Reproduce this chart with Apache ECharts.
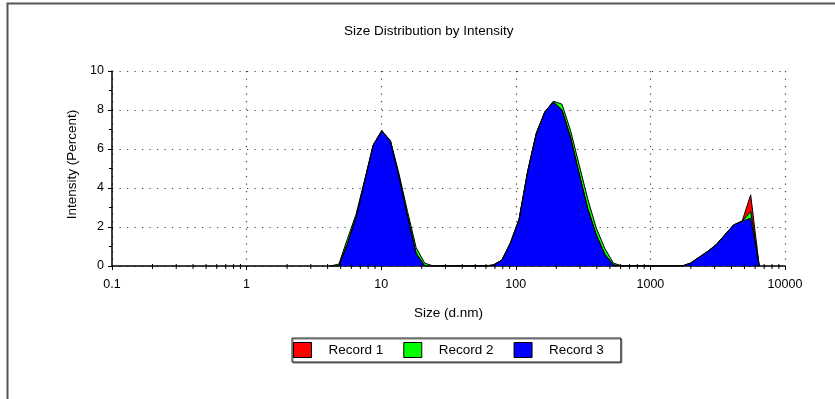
<!DOCTYPE html>
<html>
<head>
<meta charset="utf-8">
<script src="https://cdn.jsdelivr.net/npm/echarts@6/dist/echarts.min.js"></script>
<style>
html,body{margin:0;padding:0;background:#fff;}
#chart{width:835px;height:399px;}
</style>
</head>
<body>
<div id="chart"></div>
<script>
// Size bins (d.nm)
var sizes = [4.187, 4.849, 5.615, 6.503, 7.531, 8.721, 10.10, 11.70, 13.54, 15.69, 18.17, 21.04, 24.36,
  58.77, 68.06, 78.82, 91.28, 105.7, 122.4, 141.8, 164.2, 190.1, 220.2, 255.0, 295.3, 342.0, 396.1, 458.7, 531.2, 615.1,
  1718, 1990, 2305, 2669, 3091, 3580, 4145, 4801, 5560, 6439];
// Intensity (Percent)
var record1 = [0, 0, 1.15, 2.5, 4.35, 6.2, 6.95, 6.4, 4.6, 2.55, 0.65, 0, 0,
  0, 0.05, 0.3, 1.2, 2.4, 4.85, 6.8, 7.9, 8.4, 8.0, 6.6, 4.75, 2.95, 1.6, 0.6, 0.05, 0,
  0, 0.15, 0.45, 0.75, 1.1, 1.6, 2.1, 2.3, 3.65, 0];
var record2 = [0, 0.1, 1.4, 2.65, 4.4, 6.2, 6.9, 6.45, 4.75, 2.8, 0.95, 0.15, 0,
  0, 0.05, 0.3, 1.15, 2.35, 4.8, 6.75, 7.9, 8.45, 8.3, 6.95, 5.2, 3.45, 1.95, 0.9, 0.15, 0,
  0, 0.15, 0.45, 0.75, 1.1, 1.6, 2.1, 2.3, 2.8, 0];
var record3 = [0, 0, 1.15, 2.5, 4.35, 6.2, 6.95, 6.4, 4.6, 2.55, 0.65, 0, 0,
  0, 0.05, 0.3, 1.2, 2.4, 4.85, 6.8, 7.9, 8.4, 8.0, 6.6, 4.75, 2.95, 1.6, 0.6, 0.05, 0,
  0, 0.15, 0.45, 0.75, 1.1, 1.6, 2.1, 2.3, 2.45, 0];
var seriesNames = ['Record 1', 'Record 2', 'Record 3'];
var seriesColors = ['#ff0000', '#00ff00', '#0000ff'];
var xTickLabels = ['0.1', '1', '10', '100', '1000', '10000'];
var yTickLabels = ['0', '2', '4', '6', '8', '10'];

// minor tick positions on log axis (2..9 in each decade)
var xMinorTicks = [];
var decades = [0.1, 1, 10, 100, 1000];
decades.forEach(function (d) { for (var m = 2; m <= 9; m++) xMinorTicks.push(+(d * m).toPrecision(6)); });

function pairs(vals) { return sizes.map(function (s, i) { return [s, vals[i]]; }); }
var allValues = [record1, record2, record3];

var FONT = '"Liberation Sans", Arial, sans-serif';
var chart = echarts.init(document.getElementById('chart'), null, {renderer: 'canvas'});

var series = seriesNames.map(function (name, k) {
  return {
    name: name,
    type: 'line',
    data: pairs(allValues[k]),
    symbol: 'none',
    itemStyle: {color: seriesColors[k]},
    lineStyle: {color: '#000', width: 1},
    areaStyle: {color: seriesColors[k], opacity: 1},
    animation: false,
    silent: true
  };
});
series.push({
  type: 'custom',
  name: 'minorTicks',
  silent: true,
  animation: false,
  data: xMinorTicks.map(function (v) { return [v, 0]; }),
  renderItem: function (params, api) {
    var p = api.coord([api.value(0), 0]);
    return {type: 'line', shape: {x1: p[0], y1: p[1] - 2, x2: p[0], y2: p[1] + 3},
      style: {stroke: '#000', lineWidth: 1}};
  },
  z: 5
});

chart.setOption({
  animation: false,
  backgroundColor: '#fff',
  title: {
    text: 'Size Distribution by Intensity',
    left: 339, top: 19,
    textStyle: {fontFamily: FONT, fontSize: 13.5, fontWeight: 'normal', color: '#000'}
  },
  graphic: [{
    type: 'polyline',
    shape: {points: [[7.5, 400], [7.5, 3.5], [836, 3.5]]},
    style: {stroke: '#555', lineWidth: 2, fill: null}
  }],
  legend: {
    data: seriesNames,
    left: 292, top: 338,
    icon: 'rect',
    itemWidth: 18, itemHeight: 15, itemGap: 20,
    padding: [4, 17, 4, 1],
    borderColor: '#222', borderWidth: 1,
    shadowColor: '#777', shadowOffsetX: 1, shadowOffsetY: 1, shadowBlur: 0,
    backgroundColor: '#fff',
    itemStyle: {borderColor: '#000', borderWidth: 1},
    textStyle: {fontFamily: FONT, fontSize: 13.5, color: '#000', padding: [0, 0, 0, 12]},
    selectedMode: false
  },
  grid: {left: 112, right: 50, top: 71, bottom: 133, containLabel: false},
  xAxis: {
    type: 'log', logBase: 10, min: 0.1, max: 10000, splitNumber: 5,
    name: 'Size (d.nm)', nameLocation: 'middle', nameGap: 40,
    nameTextStyle: {fontFamily: FONT, fontSize: 13.5, color: '#000', verticalAlign: 'top'},
    axisLine: {show: true, lineStyle: {color: '#000', width: 1.5}},
    axisTick: {show: true, length: 4, lineStyle: {color: '#000', width: 1}},
    axisLabel: {fontFamily: FONT, fontSize: 12.5, color: '#000', margin: 12,
      formatter: function (v) {
        var idx = Math.round(Math.log10(v)) + 1;
        return xTickLabels[idx] !== undefined ? xTickLabels[idx] : String(v);
      }},
    splitLine: {show: true, lineStyle: {color: '#444', width: 1.2, type: [1.2, 6.3]}}
  },
  yAxis: {
    type: 'value', min: 0, max: 10, interval: 2,
    name: 'Intensity (Percent)', nameLocation: 'middle', nameGap: 23,
    nameTextStyle: {fontFamily: FONT, fontSize: 13.5, color: '#000', padding: [0, 0, 0, 8]},
    axisLine: {show: true, lineStyle: {color: '#000', width: 1.5}},
    axisTick: {show: true, length: 4, lineStyle: {color: '#000', width: 1}},
    minorTick: {show: true, splitNumber: 2, length: 3, lineStyle: {color: '#000', width: 1}},
    axisLabel: {fontFamily: FONT, fontSize: 12.5, color: '#000', margin: 8,
      formatter: function (v) { return yTickLabels[Math.round(v / 2)]; }},
    splitLine: {show: true, lineStyle: {color: '#444', width: 1.2, type: [1.2, 6.3]}}
  },
  series: series
});
</script>
</body>
</html>
